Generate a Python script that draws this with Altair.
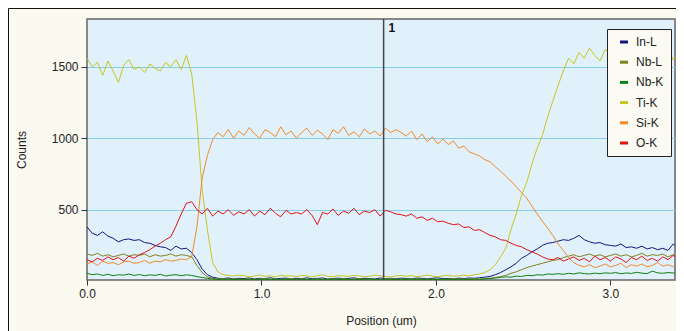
import altair as alt
import pandas as pd

series_names = ["In-L", "Nb-L", "Nb-K", "Ti-K", "Si-K", "O-K"]
series_colors = ["#14147c", "#80801f", "#108010", "#c6c61e", "#f08a2a", "#e01212"]

# sample positions (um), one every 0.03 um
positions = [round(i * 0.03, 2) for i in range(114)]

in_l = [380, 335, 320, 345, 315, 300, 275, 290, 295, 285,
        290, 270, 265, 250, 240, 235, 215, 245, 225, 230,
        200, 150, 85, 45, 28, 20, 18, 22, 15, 20,
        18, 22, 15, 20, 17, 24, 16, 19, 21, 15,
        20, 17, 23, 16, 19, 22, 15, 18, 21, 17,
        19, 23, 16, 20, 18, 15, 22, 17, 20, 16,
        21, 18, 15, 22, 19, 16, 20, 23, 17, 19,
        16, 21, 18, 22, 20, 24, 28, 33, 45, 60,
        80, 100, 125, 160, 180, 205, 225, 250, 265, 270,
        280, 290, 285, 300, 320, 290, 275, 265, 270, 255,
        250, 245, 260, 235, 240, 230, 245, 225, 235, 220,
        230, 215, 260, 225]

nb_l = [190, 180, 195, 175, 185, 170, 180, 190, 175, 185,
        180, 190, 170, 185, 175, 180, 190, 175, 185, 180,
        170, 110, 60, 30, 20, 15, 18, 12, 16, 14,
        14, 17, 12, 15, 18, 13, 16, 12, 15, 17,
        13, 16, 14, 12, 17, 15, 13, 16, 14, 18,
        12, 15, 17, 13, 16, 14, 12, 15, 18, 13,
        16, 14, 12, 17, 15, 13, 16, 14, 12, 15,
        17, 14, 16, 13, 18, 15, 17, 20, 25, 32,
        40, 55, 65, 80, 95, 105, 115, 125, 135, 145,
        150, 165, 175, 185, 170, 180, 190, 175, 185, 170,
        180, 190, 175, 185, 170, 180, 195, 175, 185, 180,
        190, 170, 185, 180]

nb_k = [55, 45, 50, 40, 48, 38, 45, 42, 50, 40,
        46, 38, 44, 40, 48, 36, 42, 45, 38, 44,
        40, 32, 25, 20, 15, 12, 10, 14, 11, 13,
        12, 10, 13, 11, 14, 10, 12, 11, 13, 10,
        11, 13, 10, 12, 14, 11, 10, 13, 12, 11,
        13, 10, 12, 11, 14, 12, 10, 13, 11, 12,
        10, 12, 14, 11, 13, 10, 12, 11, 14, 12,
        11, 13, 10, 12, 14, 12, 15, 18, 22, 26,
        30, 28, 35, 33, 40, 38, 45, 42, 50, 48,
        52, 48, 55, 50, 58, 53, 50, 56, 52, 58,
        55, 60, 52, 57, 54, 62, 56, 53, 70, 58,
        55, 60, 57, 62]

ti_k = [1560, 1500, 1530, 1440, 1540, 1470, 1390, 1510, 1550, 1480,
        1500, 1460, 1520, 1490, 1470, 1530, 1500, 1550, 1480, 1580,
        1450, 1120, 640, 360, 130, 65, 45, 40, 35, 42,
        38, 30, 36, 44, 33, 38, 30, 41, 35, 37,
        32, 40, 36, 30, 38, 45, 34, 31, 39, 36,
        33, 41, 37, 30, 35, 42, 38, 33, 29, 36,
        40, 34, 38, 31, 36, 43, 35, 30, 37, 41,
        34, 38, 42, 36, 44, 50, 60, 80, 115, 170,
        230, 360, 470, 600, 690, 820, 930, 1020, 1150, 1260,
        1370, 1470, 1560, 1520, 1600, 1560, 1630, 1580, 1540, 1620,
        1600, 1650, 1570, 1610, 1540, 1630, 1590, 1560, 1640, 1600,
        1570, 1620, 1550, 1600]

si_k = [120, 135, 110, 140, 125, 130, 115, 135, 140, 125,
        130, 145, 125, 140, 135, 150, 140, 145, 155, 150,
        170, 380, 720, 880, 990, 1040, 1010, 1060, 1000, 1050,
        1020, 1075, 1030, 1000, 1060, 1040, 1010, 1080, 1025, 1050,
        1000, 1040, 1070, 1020, 1055, 1030, 990, 1060, 1035, 1080,
        1020, 1045, 1010, 1065, 1030, 1050, 1015, 1070, 1040, 1060,
        1040, 1015, 1050, 990, 1030, 975, 1010, 960, 995, 955,
        980, 930, 945, 905, 890, 875, 850, 835, 800, 770,
        735, 700, 660, 620, 580, 525, 470, 420, 370, 320,
        260, 215, 165, 130, 110, 100, 115, 95, 105, 120,
        100, 110, 125, 95, 115, 105, 120, 100, 110, 130,
        105, 115, 100, 120]

o_k = [150, 135, 160, 145, 170, 150, 165, 140, 175, 160,
       185, 200, 220, 245, 265, 290, 310, 385, 470, 545,
       556, 500, 470, 510, 455, 490, 470, 500, 460, 485,
       470, 500, 455, 490, 465, 510, 475, 450, 495, 470,
       480, 470, 500, 460, 395, 480, 470, 505, 460, 490,
       475, 510, 465, 490, 480, 500, 455, 495, 485, 470,
       465, 455, 470, 440, 450, 425, 440, 415, 420, 405,
       395, 400, 375, 380, 355, 360, 340, 320, 310, 290,
       285, 265, 250, 240, 220, 205, 190, 170, 155, 150,
       165, 140, 155, 170, 145, 160, 135, 175, 150, 165,
       140, 170, 155, 130, 165, 150, 175, 145, 160, 140,
       170, 150, 180, 155]

marker_x = [1.70]
marker_label = ["1"]
x_ticks = [0, 1, 2, 3]
y_ticks = [500, 1000, 1500]

rows = []
for name, vals in zip(series_names, [in_l, nb_l, nb_k, ti_k, si_k, o_k]):
    for p, v in zip(positions, vals):
        rows.append({"pos": p, "counts": v, "element": name})
df = pd.DataFrame(rows)
mk = pd.DataFrame({"pos": marker_x, "label": marker_label})

W, H = 588, 261

xscale = alt.Scale(domain=[0, 3.37], nice=False, zero=False)
yscale = alt.Scale(domain=[8, 1834], nice=False, zero=False)

border = alt.Chart(mk).mark_rect(fill=None, stroke="#111111", strokeWidth=1, clip=False).encode(
    x=alt.value(-78.5), x2=alt.value(620), y=alt.value(-10.5), y2=alt.value(330)
)

lines = alt.Chart(df).mark_line(strokeWidth=1, clip=True).encode(
    x=alt.X("pos:Q", scale=xscale,
            axis=alt.Axis(values=x_ticks, format=".1f", grid=False, domain=False,
                          tickSize=5, labelPadding=3, title="Position (um)",
                          titlePadding=16, labelFlush=False)),
    y=alt.Y("counts:Q", scale=yscale,
            axis=alt.Axis(values=y_ticks, format="d", grid=True, gridColor="#86cde8", gridWidth=1.2,
                          domain=False, tickSize=6, labelPadding=3, title="Counts",
                          titlePadding=23, labelFlush=False)),
    color=alt.Color("element:N",
                    scale=alt.Scale(domain=series_names, range=series_colors),
                    legend=alt.Legend(title=None, orient="none", legendX=520, legendY=10,
                                      symbolType="stroke", symbolStrokeWidth=3, symbolSize=64,
                                      symbolOffset=4, labelFontSize=12, labelOffset=6,
                                      rowPadding=8.2, padding=7, strokeColor="#222222",
                                      fillColor="#fbfbf4", labelFont="Liberation Sans",
                                      labelColor="#222222")),
    order=alt.Order("pos:Q"),
    detail="element:N",
)

rule = alt.Chart(mk).mark_rule(color="#454545", strokeWidth=1.5).encode(x=alt.X("pos:Q", scale=xscale))
label = alt.Chart(mk).mark_text(align="left", baseline="alphabetic", dx=5, fontWeight="bold",
                                fontSize=12, font="Liberation Sans", color="#111111").encode(
    x=alt.X("pos:Q", scale=xscale), y=alt.value(13), text="label:N"
)

chart = alt.layer(border, lines, rule, label).properties(
    width=W, height=H,
    autosize=alt.AutoSizeParams(type="none"),
    padding={"left": 79, "top": 11, "right": 1, "bottom": 51},
    background="#fafaf1",
).configure_view(
    fill="#e1f1fb", stroke="#666666", strokeWidth=1.5
).configure_axis(
    labelFont="Liberation Sans", labelFontSize=12, labelColor="#222222",
    titleFont="Liberation Sans", titleFontSize=12, titleFontWeight="normal", titleColor="#222222",
    tickColor="#333333"
)

chart.save("out.html", embed_options={"renderer": "svg", "actions": False})
